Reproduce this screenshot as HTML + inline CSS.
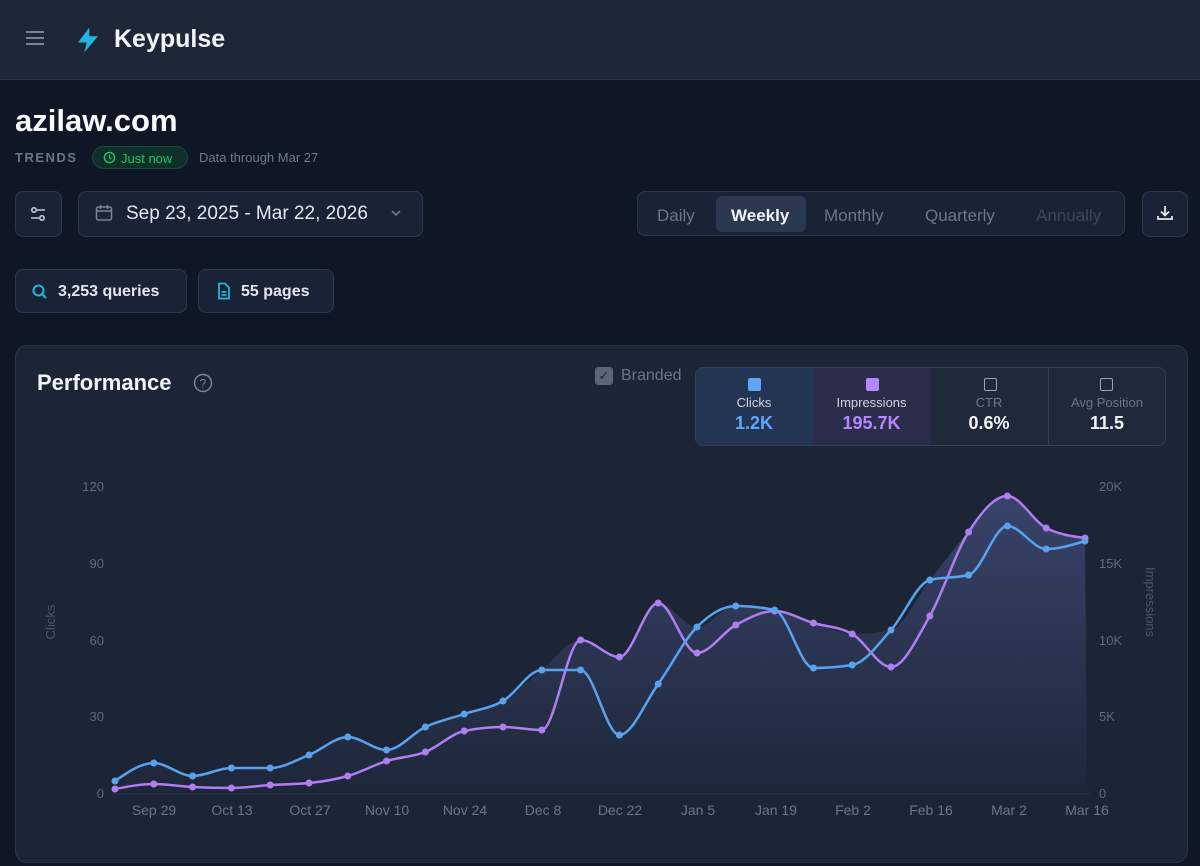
<!DOCTYPE html>
<html><head><meta charset="utf-8"><style>
*{box-sizing:border-box;margin:0;padding:0}
body{width:1200px;height:866px;background:#0f1726;font-family:"Liberation Sans",sans-serif;color:#e5e7eb;position:relative;overflow:hidden}
.hdr{position:absolute;left:0;top:0;width:1200px;height:80px;background:#1e2738;border-bottom:1px solid #273246}
.abs{position:absolute}
.btn{position:absolute;border:1px solid #2c384c;background:#1a2335;border-radius:8px}
.muted{color:#6b7688}
</style></head><body>
<div class="hdr">
  <div class="abs" style="left:26px;top:31px;width:18px;height:2px;background:#7b8596;box-shadow:0 6px 0 #7b8596,0 12px 0 #7b8596"></div>
  <svg class="abs" style="left:72px;top:25px" width="32" height="30" viewBox="0 0 24 24"><path d="M13 2 L4 14 H11 L9 22 L20 9 H13 Z" fill="#22b5e0"/></svg>
  <div class="abs" style="left:114px;top:25px;font-size:25px;font-weight:bold;color:#f3f4f6">Keypulse</div>
</div>
<div class="abs" style="left:15px;top:103px;font-size:31px;font-weight:bold;color:#f8fafc">azilaw.com</div>
<div class="abs muted" style="left:15px;top:150px;font-size:13px;letter-spacing:1.5px;font-weight:bold">TRENDS</div>
<div class="abs" style="left:92px;top:146px;width:96px;height:23px;border-radius:12px;background:#10302c;border:1px solid #1b4a3c;color:#22c55e;font-size:13px;padding:4px 0 0 28px">Just now</div>
<svg class="abs" style="left:103px;top:151px" width="13" height="13" viewBox="0 0 14 14"><circle cx="7" cy="7" r="5.5" fill="none" stroke="#22c55e" stroke-width="1.5"/><path d="M7 4v3.3l2 1.2" stroke="#22c55e" stroke-width="1.4" fill="none"/></svg>
<div class="abs muted" style="left:199px;top:150px;font-size:13px;color:#6f7a8c">Data through Mar 27</div>

<div class="btn" style="left:15px;top:191px;width:47px;height:46px"></div>
<svg class="abs" style="left:28px;top:204px" width="20" height="20" viewBox="0 0 20 20" fill="none" stroke="#c5cbd5" stroke-width="1.6"><circle cx="6" cy="6" r="2.2"/><path d="M9 6h8M3 14h8"/><circle cx="14" cy="14" r="2.2"/></svg>
<div class="btn" style="left:78px;top:191px;width:345px;height:46px"></div>
<svg class="abs" style="left:94px;top:203px" width="20" height="20" viewBox="0 0 20 20" fill="none" stroke="#7b8596" stroke-width="1.5"><rect x="2.5" y="4" width="15" height="13" rx="2"/><path d="M2.5 8h15M6.5 2v4M13.5 2v4"/></svg>
<div class="abs" style="left:126px;top:203px;font-size:19px;color:#e5e7eb">Sep 23, 2025 - Mar 22, 2026</div>
<svg class="abs" style="left:390px;top:208px" width="12" height="10" viewBox="0 0 12 10"><path d="M2 3l4 4 4-4" stroke="#7b8596" stroke-width="1.5" fill="none"/></svg>

<div class="btn" style="left:637px;top:191px;width:488px;height:45px"></div>
<div class="abs" style="left:716px;top:196px;width:90px;height:36px;background:#2c3850;border-radius:6px"></div>
<div class="abs" style="left:657px;top:206px;font-size:17px;color:#6b7688">Daily</div>
<div class="abs" style="left:731px;top:206px;font-size:17px;color:#f3f4f6;font-weight:bold">Weekly</div>
<div class="abs" style="left:824px;top:206px;font-size:17px;color:#6b7688">Monthly</div>
<div class="abs" style="left:925px;top:206px;font-size:17px;color:#6b7688">Quarterly</div>
<div class="abs" style="left:1036px;top:206px;font-size:17px;color:#3d4758">Annually</div>
<div class="btn" style="left:1142px;top:191px;width:46px;height:46px"></div>
<svg class="abs" style="left:1155px;top:203px" width="20" height="20" viewBox="0 0 20 20" fill="none" stroke="#e5e7eb" stroke-width="1.8"><path d="M10 3v9M6 8.5l4 4 4-4M3 13v3h14v-3"/></svg>

<div class="btn" style="left:15px;top:269px;width:172px;height:44px"></div>
<svg class="abs" style="left:31px;top:283px" width="17" height="17" viewBox="0 0 17 17" fill="none" stroke="#22b5e0" stroke-width="2"><circle cx="7.5" cy="7.5" r="5"/><path d="M11.5 11.5l3.5 3.5"/></svg>
<div class="abs" style="left:58px;top:283px;font-size:16px;color:#e5e7eb;font-weight:bold">3,253 queries</div>
<div class="btn" style="left:198px;top:269px;width:136px;height:44px"></div>
<svg class="abs" style="left:216px;top:282px" width="16" height="18" viewBox="0 0 16 18" fill="none" stroke="#22b5e0" stroke-width="1.8"><path d="M3 1.5h6l4 4v11H3z M5.5 10h5M5.5 13h5"/></svg>
<div class="abs" style="left:241px;top:283px;font-size:16px;color:#e5e7eb;font-weight:bold">55 pages</div>

<div class="abs" style="left:15px;top:345px;width:1173px;height:518px;background:#1c2536;border:1px solid #2c3649;border-radius:12px"></div>
<div class="abs" style="left:37px;top:370px;font-size:22px;font-weight:bold;color:#f3f4f6">Performance</div>
<svg class="abs" style="left:193px;top:373px" width="20" height="20" viewBox="0 0 20 20"><circle cx="10" cy="10" r="8.5" fill="none" stroke="#7b8596" stroke-width="1.5"/><text x="10" y="14.5" font-size="12" text-anchor="middle" fill="#7b8596" font-family="Liberation Sans">?</text></svg>
<div class="abs" style="left:595px;top:367px;width:18px;height:18px;background:#5b6577;border-radius:3px;color:#1c2536;font-size:13px;text-align:center;line-height:18px">✓</div>
<div class="abs" style="left:621px;top:367px;font-size:16px;color:#6b7688">Branded</div>

<div class="abs" style="left:695px;top:367px;width:471px;height:79px;border:1px solid #334059;border-radius:8px;overflow:hidden;background:#1f2939">
  <div class="abs" style="left:0;top:0;width:118px;height:79px;background:#243553"></div>
  <div class="abs" style="left:118px;top:0;width:117px;height:79px;background:#2c2d4a"></div>
  <div class="abs" style="left:352px;top:0;width:1px;height:79px;background:#334059"></div>
</div>
<div class="abs" style="left:748px;top:378px;width:13px;height:13px;background:#60a5fa;border-radius:2px"></div>
<div class="abs" style="left:866px;top:378px;width:13px;height:13px;background:#b388ff;border-radius:2px"></div>
<div class="abs" style="left:984px;top:378px;width:13px;height:13px;border:1.5px solid #9aa3b2;border-radius:2px"></div>
<div class="abs" style="left:1100px;top:378px;width:13px;height:13px;border:1.5px solid #9aa3b2;border-radius:2px"></div>
<div class="abs" style="left:695px;top:395px;width:118px;text-align:center;font-size:13px;color:#d1d5db">Clicks</div>
<div class="abs" style="left:813px;top:395px;width:117px;text-align:center;font-size:13px;color:#d1d5db">Impressions</div>
<div class="abs" style="left:930px;top:395px;width:118px;text-align:center;font-size:13px;color:#6b7688">CTR</div>
<div class="abs" style="left:1048px;top:395px;width:118px;text-align:center;font-size:13px;color:#6b7688">Avg Position</div>
<div class="abs" style="left:695px;top:413px;width:118px;text-align:center;font-size:18px;font-weight:bold;color:#60a5fa">1.2K</div>
<div class="abs" style="left:813px;top:413px;width:117px;text-align:center;font-size:18px;font-weight:bold;color:#b388ff">195.7K</div>
<div class="abs" style="left:930px;top:413px;width:118px;text-align:center;font-size:18px;font-weight:bold;color:#f3f4f6">0.6%</div>
<div class="abs" style="left:1048px;top:413px;width:118px;text-align:center;font-size:18px;font-weight:bold;color:#f3f4f6">11.5</div>

<svg id="ch" class="abs" style="left:0;top:0" width="1200" height="866" font-family="Liberation Sans">
<defs><linearGradient id="g" x1="0" y1="0" x2="0" y2="1"><stop offset="0" stop-color="#6674c0" stop-opacity="0.38"/><stop offset="1" stop-color="#6674c0" stop-opacity="0.02"/></linearGradient></defs>
<g font-size="13" fill="#5f6a7c" text-anchor="end">
<text x="104" y="491">120</text><text x="104" y="568">90</text><text x="104" y="645">60</text><text x="104" y="721">30</text><text x="104" y="798">0</text>
</g>
<g font-size="13" fill="#5f6a7c" text-anchor="start">
<text x="1099" y="491">20K</text><text x="1099" y="568">15K</text><text x="1099" y="645">10K</text><text x="1099" y="721">5K</text><text x="1099" y="798">0</text>
</g>
<text transform="translate(55,622) rotate(-90)" font-size="13" fill="#4b5566" text-anchor="middle">Clicks</text>
<text transform="translate(1146,602) rotate(90)" font-size="13" fill="#4b5566" text-anchor="middle">Impressions</text>
<line x1="112" y1="794" x2="1090" y2="794" stroke="#2a3447"/>
<g font-size="14" fill="#6b7688" text-anchor="middle">
<text x="154" y="815">Sep 29</text><text x="232" y="815">Oct 13</text><text x="310" y="815">Oct 27</text><text x="387" y="815">Nov 10</text><text x="465" y="815">Nov 24</text><text x="543" y="815">Dec 8</text><text x="620" y="815">Dec 22</text><text x="698" y="815">Jan 5</text><text x="776" y="815">Jan 19</text><text x="853" y="815">Feb 2</text><text x="931" y="815">Feb 16</text><text x="1009" y="815">Mar 2</text><text x="1087" y="815">Mar 16</text>
</g>
<g id="plot"></g>
</svg>
<script>
(function(){
var xs=[],i;for(i=0;i<26;i++)xs.push(115+i*38.8);
var c=[781,763,776,768,768,755,737,750,727,714,701,670,670,735,684,627,606,610,668,665,630,580,575,526,549,541];
var p=[789,784,787,788,785,783,776,761,752,731,727,730,640,657,603,653,625,611,623,634,667,616,532,496,528,538];
function sgn(v){return v<0?-1:1;}
function path(y){var n=y.length,h=xs[1]-xs[0],s=[],t=[],k;
for(k=0;k<n-1;k++)s.push((y[k+1]-y[k])/h);
for(k=1;k<n-1;k++){var a=s[k-1],b=s[k],pp=(a+b)/2;t[k]=(sgn(a)+sgn(b))*Math.min(Math.abs(a),Math.abs(b),0.5*Math.abs(pp))||0;}
t[0]=(3*s[0]-t[1])/2;t[n-1]=(3*s[n-2]-t[n-2])/2;
var d="M"+xs[0]+","+y[0];
for(k=0;k<n-1;k++){d+=" C"+(xs[k]+h/3)+","+(y[k]+h/3*t[k])+" "+(xs[k+1]-h/3)+","+(y[k+1]-h/3*t[k+1])+" "+xs[k+1]+","+y[k+1];}
return d;}
var tp=[];for(i=0;i<26;i++)tp.push(Math.min(c[i],p[i]));
var s='<path d="'+path(tp)+' L1087,794 L115,794 Z" fill="url(#g)"/>';
s+='<path d="'+path(p)+'" fill="none" stroke="#b07ef0" stroke-width="2.5"/>';
s+='<path d="'+path(c)+'" fill="none" stroke="#5aa2ee" stroke-width="2.5"/>';
for(i=0;i<26;i++){s+='<circle cx="'+xs[i]+'" cy="'+p[i]+'" r="3.5" fill="#b07ef0"/><circle cx="'+xs[i]+'" cy="'+c[i]+'" r="3.5" fill="#5aa2ee"/>';}
document.getElementById('plot').innerHTML=s;
})();
</script>
</body></html>
